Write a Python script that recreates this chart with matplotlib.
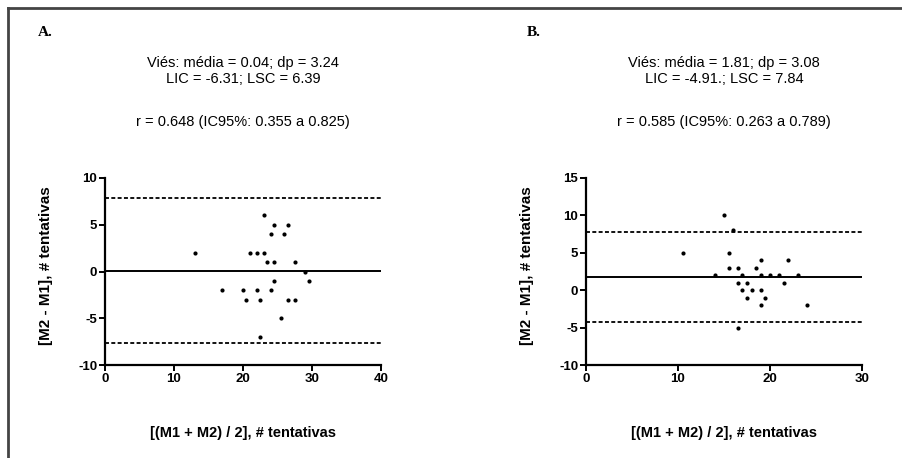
import matplotlib
matplotlib.use("Agg")
import matplotlib.pyplot as plt
import matplotlib.lines as mlines

# Panel A: Bland-Altman points (mean of M1/M2, difference M2 - M1)
a_mean = [13, 17, 20, 20.5, 21, 22, 22, 22.5, 22.5, 23, 23, 23.5, 24, 24, 24.5,
          24.5, 24.5, 25.5, 26, 26.5, 26.5, 27.5, 27.5, 29, 29.5]
a_diff = [2, -2, -2, -3, 2, 2, -2, -3, -7, 2, 6, 1, 4, -2, 5,
          1, -1, -5, 4, 5, -3, 1, -3, 0, -1]
a_bias, a_low, a_high = 0.1, -7.65, 7.9

# Panel B
b_mean = [10.5, 14, 15, 15.5, 15.5, 16, 16.5, 16.5, 16.5, 17, 17, 17.5, 17.5,
          18, 18.5, 19, 19, 19, 19, 19.5, 20, 21, 21.5, 22, 23, 24]
b_diff = [5, 2, 10, 5, 3, 8, 3, 1, -5, 2, 0, 1, -1,
          0, 3, 4, 2, 0, -2, -1, 2, 2, 1, 4, 2, -2]
b_bias, b_low, b_high = 1.81, -4.23, 7.84

a_text = "Viés: média = 0.04; dp = 3.24\nLIC = -6.31; LSC = 6.39"
b_text = "Viés: média = 1.81; dp = 3.08\nLIC = -4.91.; LSC = 7.84"
a_r = "r = 0.648 (IC95%: 0.355 a 0.825)"
b_r = "r = 0.585 (IC95%: 0.263 a 0.789)"

W, H = 903, 458
fig = plt.figure(figsize=(W / 100, H / 100), dpi=100)
plt.rcParams['font.family'] = ['Liberation Sans', 'DejaVu Sans']
plt.rcParams['axes.unicode_minus'] = False

# outer frame (left and top edges visible)
fig.add_artist(mlines.Line2D([8 / W, 8 / W], [0, 1 - 8 / H], transform=fig.transFigure,
                             color='#444444', lw=2))
fig.add_artist(mlines.Line2D([8 / W, 1], [1 - 8 / H, 1 - 8 / H], transform=fig.transFigure,
                             color='#444444', lw=2))


def panel(left, x, y, bias, low, high, xmax, ymin, ymax, yticks, xticks):
    ax = fig.add_axes([left / W, (H - 365) / H, 276 / W, 187 / H])
    ax.scatter(x, y, s=9, color='black', zorder=3, linewidths=0)
    ax.axhline(bias, color='black', lw=1.4)
    ax.axhline(low, color='black', lw=1.3, ls=(0, (2.2, 1.3)))
    ax.axhline(high, color='black', lw=1.3, ls=(0, (2.2, 1.3)))
    ax.set_xlim(0, xmax)
    ax.set_ylim(ymin, ymax)
    ax.set_xticks(xticks)
    ax.set_yticks(yticks)
    for s in ['top', 'right']:
        ax.spines[s].set_visible(False)
    for s in ['left', 'bottom']:
        ax.spines[s].set_linewidth(1.6)
    ax.tick_params(width=1.4, length=4, labelsize=9.5, pad=1.5)
    for lab in ax.get_xticklabels() + ax.get_yticklabels():
        lab.set_fontweight('bold')
    ax.set_ylabel('[M2 - M1], # tentativas', fontsize=11, fontweight='bold')
    ax.yaxis.set_label_coords(-0.19, 0.53)
    ax.set_xlabel('[(M1 + M2) / 2], # tentativas', fontsize=10.5, fontweight='bold')
    ax.xaxis.set_label_coords(0.5, -0.325)
    return ax


panel(105, a_mean, a_diff, a_bias, a_low, a_high, 40, -10, 10, [-10, -5, 0, 5, 10],
      [0, 10, 20, 30, 40])
panel(586, b_mean, b_diff, b_bias, b_low, b_high, 30, -10, 15, [-10, -5, 0, 5, 10, 15],
      [0, 10, 20, 30])

for cx, lab_x, txt, rtxt, lab in [(243, 38, a_text, a_r, 'A.'), (724, 527, b_text, b_r, 'B.')]:
    fig.text(lab_x / W, 1 - 33 / H, lab, family='Liberation Serif', fontweight='bold',
             fontsize=11, ha='left', va='center')
    fig.text(cx / W, 1 - 71 / H, txt, ha='center', va='center', fontsize=10.5,
             linespacing=1.25)
    fig.text(cx / W, 1 - 122 / H, rtxt, ha='center', va='center', fontsize=10.5)

fig.savefig('out.png', dpi=100)
